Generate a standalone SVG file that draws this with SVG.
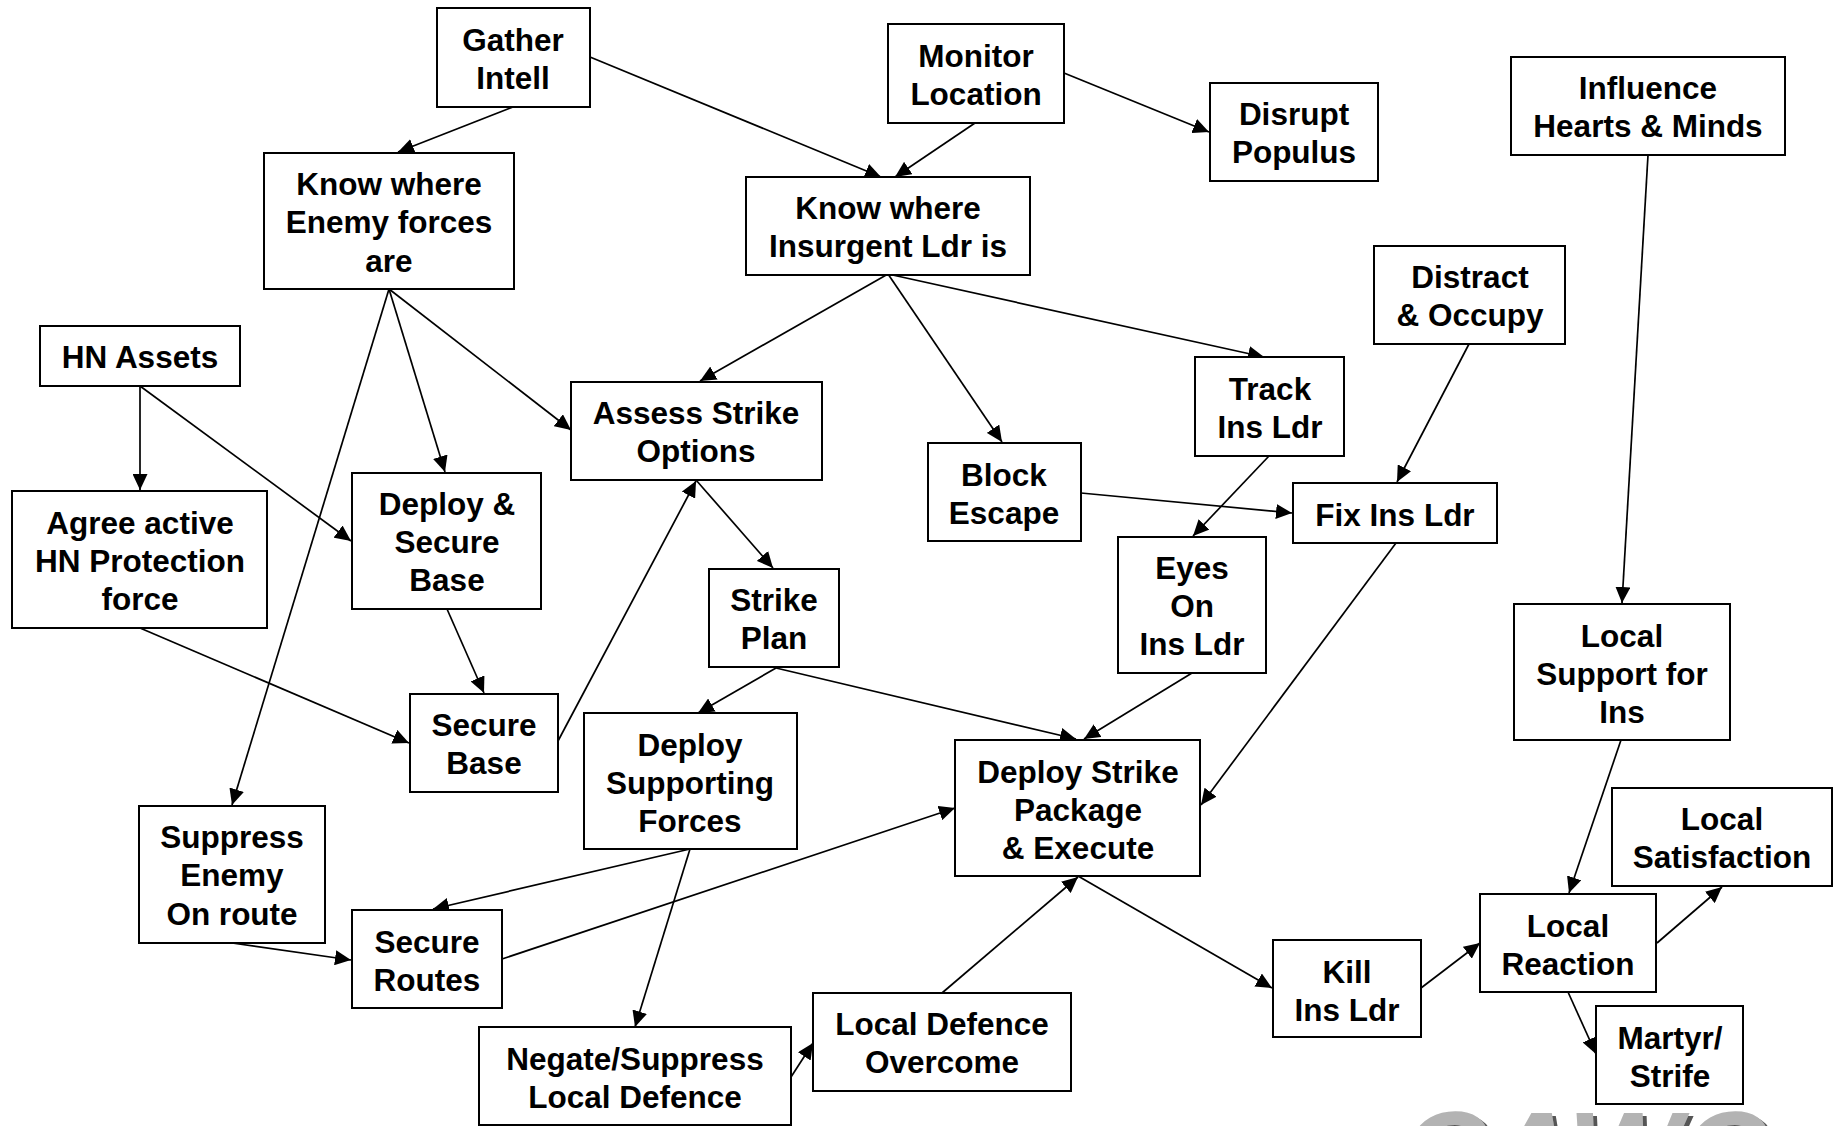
<svg xmlns="http://www.w3.org/2000/svg" width="1834" height="1126" viewBox="0 0 1834 1126">
  <defs>
    <marker id="arrow" markerUnits="userSpaceOnUse" markerWidth="17" markerHeight="15" refX="16" refY="7.5" orient="auto">
      <path d="M0,0 L16,7.5 L0,15 z" fill="#000"/>
    </marker>
    <!-- hard offset shadow for the logo lettering -->
    <filter id="logo-shadow" x="-5%" y="-5%" width="110%" height="110%">
      <feFlood flood-color="#555" result="ink"/>
      <feComposite in="ink" in2="SourceAlpha" operator="in" result="shape"/>
      <feOffset in="shape" dx="4" dy="3" result="shadow"/>
      <feMerge>
        <feMergeNode in="shadow"/>
        <feMergeNode in="SourceGraphic"/>
      </feMerge>
    </filter>
  </defs>
  <style>
    .box { fill: #fff; stroke: #000; stroke-width: 2; }
    .t { font-family: "Liberation Sans", Arial, sans-serif; font-weight: bold; font-size: 31.5px; text-anchor: middle; fill: #000; }
    .c line { stroke: #000; stroke-width: 1.7; marker-end: url(#arrow); }
    .wm { font-family: "Liberation Sans", Arial, sans-serif; font-weight: bold; font-style: italic; font-size: 120px; fill: #b3b3b3; }
  </style>
  <rect width="1834" height="1126" fill="#fff"/>

  <!-- faded logo lettering along the bottom edge -->
  <g id="logo">
    <text class="wm" x="1401" y="1196" filter="url(#logo-shadow)">CAWC</text>
  </g>

  <!-- connectors -->
  <g id="connectors" class="c">
    <line x1="513" y1="107" x2="398" y2="152"/>
    <line x1="590" y1="57" x2="881" y2="177"/>
    <line x1="975" y1="123" x2="895" y2="177"/>
    <line x1="1064" y1="73" x2="1209" y2="132"/>
    <line x1="389" y1="289" x2="445" y2="472"/>
    <line x1="389" y1="289" x2="571" y2="430"/>
    <line x1="389" y1="289" x2="232" y2="805"/>
    <line x1="140" y1="386" x2="140" y2="490"/>
    <line x1="140" y1="386" x2="351" y2="541"/>
    <line x1="140" y1="628" x2="409" y2="743"/>
    <line x1="447" y1="609" x2="484" y2="693"/>
    <line x1="558" y1="741" x2="696" y2="481"/>
    <line x1="888" y1="274" x2="700" y2="381"/>
    <line x1="888" y1="274" x2="1002" y2="442"/>
    <line x1="888" y1="274" x2="1264" y2="357"/>
    <line x1="696" y1="480" x2="773" y2="568"/>
    <line x1="776" y1="668" x2="698" y2="713"/>
    <line x1="776" y1="668" x2="1076" y2="739"/>
    <line x1="1192" y1="673" x2="1084" y2="739"/>
    <line x1="1269" y1="456" x2="1193" y2="536"/>
    <line x1="1081" y1="493" x2="1292" y2="513"/>
    <line x1="1469" y1="344" x2="1397" y2="482"/>
    <line x1="1396" y1="543" x2="1201" y2="805"/>
    <line x1="1648" y1="155" x2="1622" y2="603"/>
    <line x1="1621" y1="740" x2="1569" y2="893"/>
    <line x1="1657" y1="943" x2="1722" y2="887"/>
    <line x1="1568" y1="992" x2="1596" y2="1054"/>
    <line x1="1421" y1="988" x2="1480" y2="943"/>
    <line x1="1078" y1="876" x2="1272" y2="988"/>
    <line x1="942" y1="993" x2="1078" y2="877"/>
    <line x1="791" y1="1077" x2="813" y2="1043"/>
    <line x1="690" y1="849" x2="635" y2="1027"/>
    <line x1="690" y1="849" x2="433" y2="909"/>
    <line x1="232" y1="943" x2="351" y2="960"/>
    <line x1="502" y1="959" x2="955" y2="808"/>
  </g>

  <!-- nodes -->
  <g id="gather-intell">
    <rect class="box" x="437" y="8" width="153" height="99"/>
    <text class="t" x="513" y="51">Gather</text>
    <text class="t" x="513" y="89">Intell</text>
  </g>
  <g id="monitor-location">
    <rect class="box" x="888" y="24" width="176" height="99"/>
    <text class="t" x="976" y="67">Monitor</text>
    <text class="t" x="976" y="105">Location</text>
  </g>
  <g id="disrupt-populus">
    <rect class="box" x="1210" y="83" width="168" height="98"/>
    <text class="t" x="1294" y="125">Disrupt</text>
    <text class="t" x="1294" y="163">Populus</text>
  </g>
  <g id="influence">
    <rect class="box" x="1511" y="57" width="274" height="98"/>
    <text class="t" x="1648" y="99">Influence</text>
    <text class="t" x="1648" y="137">Hearts &amp; Minds</text>
  </g>
  <g id="know-enemy">
    <rect class="box" x="264" y="153" width="250" height="136"/>
    <text class="t" x="389" y="195">Know where</text>
    <text class="t" x="389" y="233">Enemy forces</text>
    <text class="t" x="389" y="272">are</text>
  </g>
  <g id="know-insurgent">
    <rect class="box" x="746" y="177" width="284" height="98"/>
    <text class="t" x="888" y="219">Know where</text>
    <text class="t" x="888" y="257">Insurgent Ldr is</text>
  </g>
  <g id="distract-occupy">
    <rect class="box" x="1374" y="246" width="191" height="98"/>
    <text class="t" x="1470" y="288">Distract</text>
    <text class="t" x="1470" y="326">&amp; Occupy</text>
  </g>
  <g id="hn-assets">
    <rect class="box" x="40" y="326" width="200" height="60"/>
    <text class="t" x="140" y="368">HN Assets</text>
  </g>
  <g id="assess-strike">
    <rect class="box" x="571" y="382" width="251" height="98"/>
    <text class="t" x="696" y="424">Assess Strike</text>
    <text class="t" x="696" y="462">Options</text>
  </g>
  <g id="track-ins-ldr">
    <rect class="box" x="1195" y="357" width="149" height="99"/>
    <text class="t" x="1270" y="400">Track</text>
    <text class="t" x="1270" y="438">Ins Ldr</text>
  </g>
  <g id="block-escape">
    <rect class="box" x="928" y="443" width="153" height="98"/>
    <text class="t" x="1004" y="486">Block</text>
    <text class="t" x="1004" y="524">Escape</text>
  </g>
  <g id="fix-ins-ldr">
    <rect class="box" x="1293" y="483" width="204" height="60"/>
    <text class="t" x="1395" y="526">Fix Ins Ldr</text>
  </g>
  <g id="agree-hn">
    <rect class="box" x="12" y="491" width="255" height="137"/>
    <text class="t" x="140" y="534">Agree active</text>
    <text class="t" x="140" y="572">HN Protection</text>
    <text class="t" x="140" y="610">force</text>
  </g>
  <g id="deploy-secure-base">
    <rect class="box" x="352" y="473" width="189" height="136"/>
    <text class="t" x="447" y="515">Deploy &amp;</text>
    <text class="t" x="447" y="553">Secure</text>
    <text class="t" x="447" y="591">Base</text>
  </g>
  <g id="strike-plan">
    <rect class="box" x="709" y="569" width="130" height="98"/>
    <text class="t" x="774" y="611">Strike</text>
    <text class="t" x="774" y="649">Plan</text>
  </g>
  <g id="eyes-on">
    <rect class="box" x="1118" y="537" width="148" height="136"/>
    <text class="t" x="1192" y="579">Eyes</text>
    <text class="t" x="1192" y="617">On</text>
    <text class="t" x="1192" y="655">Ins Ldr</text>
  </g>
  <g id="local-support">
    <rect class="box" x="1514" y="604" width="216" height="136"/>
    <text class="t" x="1622" y="647">Local</text>
    <text class="t" x="1622" y="685">Support for</text>
    <text class="t" x="1622" y="723">Ins</text>
  </g>
  <g id="secure-base">
    <rect class="box" x="410" y="694" width="148" height="98"/>
    <text class="t" x="484" y="736">Secure</text>
    <text class="t" x="484" y="774">Base</text>
  </g>
  <g id="deploy-supporting">
    <rect class="box" x="584" y="713" width="213" height="136"/>
    <text class="t" x="690" y="756">Deploy</text>
    <text class="t" x="690" y="794">Supporting</text>
    <text class="t" x="690" y="832">Forces</text>
  </g>
  <g id="strike-package">
    <rect class="box" x="955" y="740" width="245" height="136"/>
    <text class="t" x="1078" y="783">Deploy Strike</text>
    <text class="t" x="1078" y="821">Package</text>
    <text class="t" x="1078" y="859">&amp; Execute</text>
  </g>
  <g id="suppress-enemy">
    <rect class="box" x="139" y="806" width="186" height="137"/>
    <text class="t" x="232" y="848">Suppress</text>
    <text class="t" x="232" y="886">Enemy</text>
    <text class="t" x="232" y="925">On route</text>
  </g>
  <g id="secure-routes">
    <rect class="box" x="352" y="910" width="150" height="98"/>
    <text class="t" x="427" y="953">Secure</text>
    <text class="t" x="427" y="991">Routes</text>
  </g>
  <g id="negate-defence">
    <rect class="box" x="479" y="1027" width="312" height="98"/>
    <text class="t" x="635" y="1070">Negate/Suppress</text>
    <text class="t" x="635" y="1108">Local Defence</text>
  </g>
  <g id="defence-overcome">
    <rect class="box" x="813" y="993" width="258" height="98"/>
    <text class="t" x="942" y="1035">Local Defence</text>
    <text class="t" x="942" y="1073">Overcome</text>
  </g>
  <g id="kill-ins-ldr">
    <rect class="box" x="1273" y="940" width="148" height="97"/>
    <text class="t" x="1347" y="983">Kill</text>
    <text class="t" x="1347" y="1021">Ins Ldr</text>
  </g>
  <g id="local-reaction">
    <rect class="box" x="1480" y="894" width="176" height="98"/>
    <text class="t" x="1568" y="937">Local</text>
    <text class="t" x="1568" y="975">Reaction</text>
  </g>
  <g id="local-satisfaction">
    <rect class="box" x="1612" y="788" width="220" height="98"/>
    <text class="t" x="1722" y="830">Local</text>
    <text class="t" x="1722" y="868">Satisfaction</text>
  </g>
  <g id="martyr-strife">
    <rect class="box" x="1596" y="1006" width="147" height="98"/>
    <text class="t" x="1670" y="1049">Martyr/</text>
    <text class="t" x="1670" y="1087">Strife</text>
  </g>
</svg>
